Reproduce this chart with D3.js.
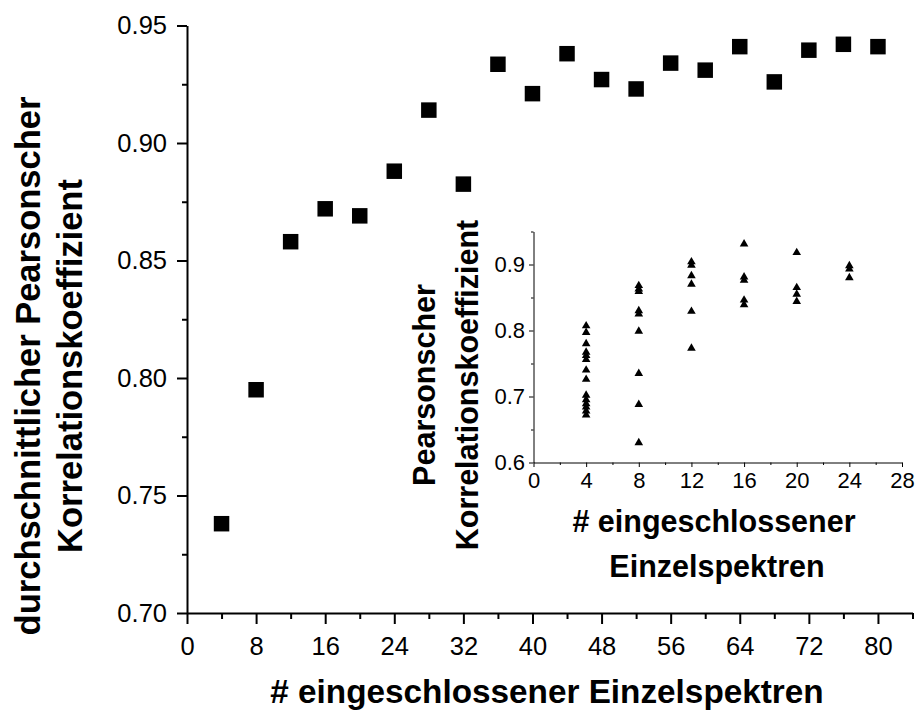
<!DOCTYPE html>
<html>
<head>
<meta charset="utf-8">
<script src="https://cdn.jsdelivr.net/npm/d3@7"></script>
<style>
  body { margin: 0; background: #fff; }
  svg { display: block; font-family: "Liberation Sans", Arial, sans-serif; }
  .domain { stroke: #000; }
  .tick line { stroke: #000; }
  .tick text { fill: #000; }
</style>
</head>
<body>
<svg width="917" height="713"></svg>
<script>
// main plot: average Pearson coefficient vs number of included spectra
const mainX = [4, 8, 12, 16, 20, 24, 28, 32, 36, 40, 44, 48, 52, 56, 60, 64, 68, 72, 76, 80];
const mainY = [0.738, 0.795, 0.858, 0.872, 0.869, 0.888, 0.914, 0.8825, 0.9335, 0.921,
               0.938, 0.927, 0.923, 0.934, 0.931, 0.941, 0.926, 0.9395, 0.942, 0.941];
const mainXTicks = [0, 8, 16, 24, 32, 40, 48, 56, 64, 72, 80];
const mainYTicks = [0.70, 0.75, 0.80, 0.85, 0.90, 0.95];

// inset: single coefficients per group size
const insetGroups = [4, 8, 12, 16, 20, 24];
const inset4  = [0.807, 0.797, 0.780, 0.767, 0.762, 0.756, 0.740, 0.726, 0.702, 0.695, 0.689, 0.684, 0.678, 0.672];
const inset8  = [0.868, 0.863, 0.859, 0.830, 0.825, 0.799, 0.735, 0.688, 0.630];
const inset12 = [0.904, 0.899, 0.883, 0.870, 0.829, 0.773];
const inset16 = [0.931, 0.881, 0.876, 0.846, 0.839];
const inset20 = [0.918, 0.865, 0.855, 0.844];
const inset24 = [0.898, 0.893, 0.880];
const insetXTicks = [0, 4, 8, 12, 16, 20, 24, 28];
const insetYTicks = [0.6, 0.7, 0.8, 0.9];

const svg = d3.select('svg');

// ---- main chart ----
const x = d3.scaleLinear().domain([0, 84]).range([187, 912.5]);
const y = d3.scaleLinear().domain([0.70, 0.95]).range([613, 25.5]);

const minorX = d3.range(4, 85, 8);
const minorY = d3.range(0.725, 0.95, 0.05);

svg.append('g')
    .attr('transform', 'translate(0,613)')
    .call(d3.axisBottom(x).tickValues(minorX).tickSize(6).tickFormat(''))
    .call(g => g.select('.domain').remove())
    .selectAll('line').attr('stroke-width', 2);

svg.append('g')
    .attr('transform', 'translate(187,0)')
    .call(d3.axisLeft(y).tickValues(minorY).tickSize(5).tickFormat(''))
    .call(g => g.select('.domain').remove())
    .selectAll('line').attr('stroke-width', 2);

const xAxis = svg.append('g')
    .attr('transform', 'translate(0,613)')
    .call(d3.axisBottom(x).tickValues(mainXTicks).tickSizeInner(11).tickSizeOuter(0).tickPadding(0));
xAxis.select('.domain').attr('stroke-width', 2);
xAxis.selectAll('line').attr('stroke-width', 2);
xAxis.selectAll('text')
    .attr('font-size', 25.5)
    .attr('dy', null)
    .attr('y', 42);

const yAxis = svg.append('g')
    .attr('transform', 'translate(187,0)')
    .call(d3.axisLeft(y).tickValues(mainYTicks).tickSizeInner(10).tickSizeOuter(0)
        .tickFormat(d3.format('.2f')).tickPadding(10));
yAxis.select('.domain').attr('stroke-width', 2);
yAxis.selectAll('line').attr('stroke-width', 2);
yAxis.selectAll('text').attr('font-size', 25.5);

svg.append('g')
    .selectAll('path')
    .data(mainX.map((d, i) => [d, mainY[i]]))
    .join('path')
    .attr('d', d3.symbol(d3.symbolSquare, 240))
    .attr('transform', d => `translate(${x(d[0])},${y(d[1])})`)
    .attr('fill', '#000');

svg.append('text')
    .attr('x', 547)
    .attr('y', 703)
    .attr('text-anchor', 'middle')
    .attr('font-size', 33.3)
    .attr('font-weight', 'bold')
    .text('# eingeschlossener Einzelspektren');

const yTitle = svg.append('text')
    .attr('transform', 'translate(40,366) rotate(-90)')
    .attr('text-anchor', 'middle')
    .attr('font-size', 34.5)
    .attr('font-weight', 'bold');
yTitle.append('tspan').attr('x', 0).attr('y', 0).text('durchschnittlicher Pearsonscher');
yTitle.append('tspan').attr('x', 0).attr('y', 42).text('Korrelationskoeffizient');

// ---- inset ----
const ix = d3.scaleLinear().domain([0, 28]).range([533.5, 902]);
const iy = d3.scaleLinear().domain([0.6, 0.95]).range([462.5, 231.5]);

svg.append('g')
    .attr('transform', 'translate(0,462.5)')
    .call(d3.axisBottom(ix).tickValues(d3.range(2, 28, 4)).tickSize(2.5).tickFormat(''))
    .call(g => g.select('.domain').remove());

svg.append('g')
    .attr('transform', 'translate(533.5,0)')
    .call(d3.axisLeft(iy).tickValues([0.65, 0.75, 0.85, 0.95]).tickSize(2.5).tickFormat(''))
    .call(g => g.select('.domain').remove());

const ixAxis = svg.append('g')
    .attr('transform', 'translate(0,462.5)')
    .call(d3.axisBottom(ix).tickValues(insetXTicks).tickSizeInner(4.5).tickSizeOuter(0).tickPadding(0));
ixAxis.select('.domain').attr('stroke', '#222');
ixAxis.selectAll('text')
    .attr('font-size', 22)
    .attr('dy', null)
    .attr('y', 25);

const iyAxis = svg.append('g')
    .attr('transform', 'translate(533.5,0)')
    .call(d3.axisLeft(iy).tickValues(insetYTicks).tickSizeInner(4.5).tickSizeOuter(0)
        .tickFormat(d3.format('.1f')).tickPadding(4));
iyAxis.select('.domain').attr('stroke', '#222');
iyAxis.selectAll('text').attr('font-size', 22);

const insetSeries = [inset4, inset8, inset12, inset16, inset20, inset24];
const insetPoints = insetSeries.flatMap((vals, i) => vals.map(v => [insetGroups[i], v]));

svg.append('g')
    .selectAll('path')
    .data(insetPoints)
    .join('path')
    .attr('d', d3.symbol(d3.symbolTriangle, 32))
    .attr('transform', d => `translate(${ix(d[0])},${iy(d[1])})`)
    .attr('fill', '#000');

const ixTitle = svg.append('text')
    .attr('text-anchor', 'middle')
    .attr('font-size', 30.5)
    .attr('font-weight', 'bold');
ixTitle.append('tspan').attr('x', 714).attr('y', 532).text('# eingeschlossener');
ixTitle.append('tspan').attr('x', 717).attr('y', 577).text('Einzelspektren');

const iyTitle = svg.append('text')
    .attr('transform', 'translate(435,385) rotate(-90)')
    .attr('text-anchor', 'middle')
    .attr('font-size', 30.5)
    .attr('font-weight', 'bold');
iyTitle.append('tspan').attr('x', 0).attr('y', 0).text('Pearsonscher');
iyTitle.append('tspan').attr('x', 0).attr('y', 43).text('Korrelationskoeffizient');
</script>
</body>
</html>
